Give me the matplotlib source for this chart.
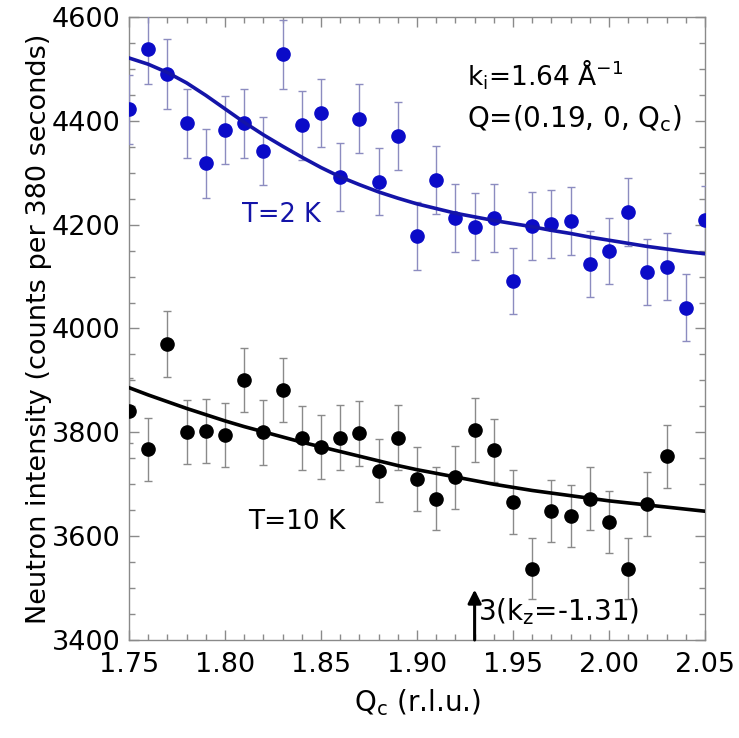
import matplotlib
matplotlib.use("Agg")
import matplotlib.pyplot as plt
from matplotlib.ticker import MultipleLocator
import numpy as np

# ── Data ─────────────────────────────────────────────────────────────────────
QC = [1.75, 1.76, 1.77, 1.78, 1.79, 1.80, 1.81, 1.82, 1.83, 1.84, 1.85,
      1.86, 1.87, 1.88, 1.89, 1.90, 1.91, 1.92, 1.93, 1.94, 1.95, 1.96,
      1.97, 1.98, 1.99, 2.00, 2.01, 2.02, 2.03, 2.04, 2.05]

# T = 2 K
I_2K = [4422, 4538, 4490, 4395, 4318, 4382, 4395, 4342, 4528, 4391, 4415,
        4292, 4404, 4283, 4371, 4178, 4286, 4213, 4196, 4213, 4091, 4197,
        4201, 4207, 4124, 4149, 4224, 4109, 4119, 4040, 4209]
ERR_2K = [66, 67, 67, 66, 66, 66, 66, 66, 67, 66, 66,
          66, 66, 65, 66, 65, 65, 65, 65, 65, 64, 65,
          65, 65, 64, 64, 65, 64, 64, 64, 65]
FIT_2K = [4521, 4509, 4493, 4473, 4449, 4423, 4397, 4373, 4351, 4330, 4310,
          4292, 4277, 4263, 4251, 4240, 4231, 4222, 4215, 4208, 4202, 4196,
          4189, 4183, 4176, 4170, 4164, 4158, 4153, 4148, 4144]

# T = 10 K (no points at 2.04, 2.05)
QC_10K = QC[:29]
I_10K = [3842, 3767, 3970, 3801, 3803, 3795, 3901, 3800, 3882, 3789, 3772,
         3790, 3798, 3726, 3790, 3710, 3672, 3713, 3805, 3765, 3666, 3537,
         3649, 3639, 3672, 3627, 3537, 3662, 3754]
ERR_10K = [62, 61, 63, 62, 62, 62, 62, 62, 62, 62, 61,
           62, 62, 61, 62, 61, 61, 61, 62, 61, 61, 59,
           60, 60, 61, 60, 59, 61, 61]
FIT_10K = [3886, 3872, 3859, 3846, 3834, 3822, 3811, 3801, 3791, 3781, 3772,
           3763, 3754, 3745, 3736, 3728, 3721, 3714, 3707, 3700, 3694, 3688,
           3683, 3678, 3673, 3668, 3664, 3660, 3656, 3652, 3648]

XLIM = (1.75, 2.05)
YLIM = (3400, 4600)

# ── Style ─────────────────────────────────────────────────────────────────────
plt.rcParams["font.family"] = ["DejaVu Sans"]
plt.rcParams["mathtext.fontset"] = "dejavusans"

BLUE = "#0b0bc8"
BLUE_LINE = "#1414a8"
BLUE_ERR = "#8c8cc0"
BLACK = "#000000"
GREY_ERR = "#8a8a8a"

fig = plt.figure(figsize=(7.39, 7.38), dpi=100)
ax = fig.add_axes([0.1746, 0.1328, 0.7794, 0.8442])

# error bars + points
ax.errorbar(QC, I_2K, yerr=ERR_2K, fmt="o", color=BLUE, ms=9.5,
            ecolor=BLUE_ERR, elinewidth=1.0, capsize=3, capthick=1.0,
            zorder=3)
ax.errorbar(QC_10K, I_10K, yerr=ERR_10K, fmt="o", color=BLACK, ms=9.5,
            ecolor=GREY_ERR, elinewidth=1.0, capsize=3, capthick=1.0,
            zorder=3)

# fits
ax.plot(QC, FIT_2K, color=BLUE_LINE, lw=2.6, zorder=4)
ax.plot(QC, FIT_10K, color=BLACK, lw=2.6, zorder=4)

ax.set_xlim(*XLIM)
ax.set_ylim(*YLIM)

ax.xaxis.set_major_locator(MultipleLocator(0.05))
ax.xaxis.set_minor_locator(MultipleLocator(0.01))
ax.yaxis.set_major_locator(MultipleLocator(200))
ax.yaxis.set_minor_locator(MultipleLocator(50))
ax.xaxis.set_major_formatter(plt.FuncFormatter(lambda v, p: f"{v:.2f}"))

ax.tick_params(which="both", direction="in", top=True, right=True,
               color="#8a8a8a", width=1.0)
ax.tick_params(which="major", length=7, labelsize=19.5)
ax.tick_params(axis="x", which="major", pad=9)
ax.tick_params(axis="y", which="major", pad=6)
ax.tick_params(which="minor", length=4)
for s in ax.spines.values():
    s.set_color("#8a8a8a")
    s.set_linewidth(1.0)

ax.set_xlabel(r"Q$_\mathregular{c}$ (r.l.u.)", fontsize=20, labelpad=6)
ax.set_ylabel("Neutron intensity (counts per 380 seconds)", fontsize=19.5,
              labelpad=0)

# annotations
ax.text(1.809, 4219, "T=2 K", color=BLUE_LINE, fontsize=18.5, va="center")
ax.text(1.812, 3627, "T=10 K", color=BLACK, fontsize=19, va="center")
ax.text(1.926, 4488, r"k$_\mathregular{i}$=1.64 Å$^\mathregular{-1}$",
        fontsize=19, va="center")
ax.text(1.926, 4405, r"Q=(0.19, 0, Q$_\mathregular{c}$)", fontsize=20,
        va="center")

ax.annotate("", xy=(1.93, 3497), xytext=(1.93, 3400),
            arrowprops=dict(arrowstyle="-|>", color="black", lw=2.2,
                            mutation_scale=20, shrinkA=0, shrinkB=0))
ax.text(1.9318, 3454, r"3(k$_\mathregular{z}$=-1.31)", fontsize=20,
        va="center")

fig.savefig("out.png", dpi=100, facecolor="white")
